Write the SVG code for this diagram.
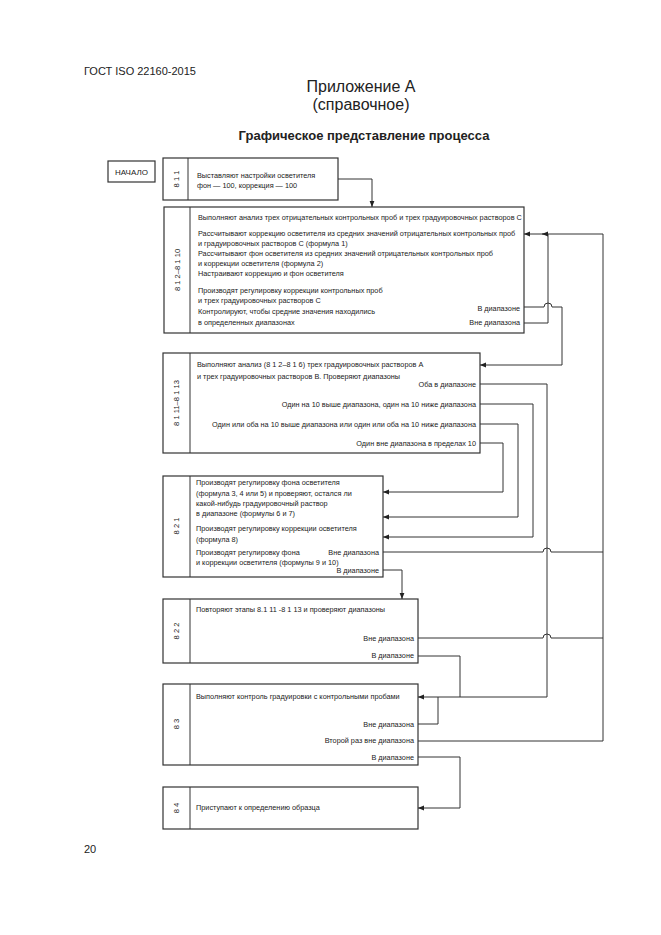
<svg xmlns="http://www.w3.org/2000/svg" width="661" height="935" viewBox="0 0 661 935">
<defs>
<marker id="arr" viewBox="0 0 10 10" refX="10" refY="5" markerWidth="6" markerHeight="6" orient="auto" markerUnits="userSpaceOnUse">
<path d="M0,1 L10,5 L0,9 z" fill="#222"/>
</marker>
</defs>
<style>
text{font-family:"Liberation Sans",Arial,sans-serif;fill:#222}
.t{font-size:7.3px}
.r{font-size:7.3px;text-anchor:end}
.lab{font-size:7.6px;text-anchor:middle;dominant-baseline:central}
.box{fill:#fff;stroke:#333;stroke-width:1.2}
.div{stroke:#333;stroke-width:1}
.c{fill:none;stroke:#333;stroke-width:1}
</style>
<rect width="661" height="935" fill="#fff"/>
<text x="84" y="75" style="font-size:11px">ГОСТ ISO 22160-2015</text>
<text x="361" y="92" style="font-size:16px;text-anchor:middle">Приложение А</text>
<text x="361" y="110" style="font-size:16px;text-anchor:middle">(справочное)</text>
<text x="364" y="140" style="font-size:13px;font-weight:bold;text-anchor:middle">Графическое представление процесса</text>
<text x="84" y="853" style="font-size:11px">20</text>

<g id="start">
<rect class="box" x="108" y="161" width="47" height="21"/>
<text x="131.5" y="174.5" style="font-size:8px;text-anchor:middle">НАЧАЛО</text>
</g>

<g id="n811">
<rect class="box" x="163" y="158" width="175" height="42"/>
<line class="div" x1="188" y1="158" x2="188" y2="200"/>
<text class="lab" transform="translate(176,179) rotate(-90)">8 1 1</text>
<text class="t" x="197" y="177.5">Выставляют настройки осветителя</text>
<text class="t" x="197" y="188">фон — 100, коррекция — 100</text>
</g>

<g id="n812">
<rect class="box" x="164" y="207" width="360" height="126"/>
<line class="div" x1="190" y1="207" x2="190" y2="333"/>
<text class="lab" transform="translate(177,270) rotate(-90)">8 1 2–8 1 10</text>
<text class="t" x="198" y="219.5">Выполняют анализ трех отрицательных контрольных проб и трех градуировочных растворов С</text>
<text class="t" x="198" y="235.5">Рассчитывают коррекцию осветителя из средних значений отрицательных контрольных проб</text>
<text class="t" x="198" y="245.5">и градуировочных растворов С (формула 1)</text>
<text class="t" x="198" y="255.5">Рассчитывают фон осветителя из средних значений отрицательных контрольных проб</text>
<text class="t" x="198" y="265.5">и коррекции осветителя (формула 2)</text>
<text class="t" x="198" y="275.5">Настраивают коррекцию и фон осветителя</text>
<text class="t" x="198" y="292.5">Производят регулировку коррекции контрольных проб</text>
<text class="t" x="198" y="302.5">и трех градуировочных растворов С</text>
<text class="t" x="198" y="313.5">Контролируют, чтобы средние значения находились</text>
<text class="t" x="198" y="325">в определенных диапазонах</text>
<text class="r" x="520" y="310.5">В диапазоне</text>
<text class="r" x="520" y="325">Вне диапазона</text>
</g>

<g id="n8111">
<rect class="box" x="163" y="353" width="317" height="100"/>
<line class="div" x1="190" y1="353" x2="190" y2="453"/>
<text class="lab" transform="translate(176,403) rotate(-90)">8 1 11–8 1 13</text>
<text class="t" x="197" y="366.5">Выполняют анализ (8 1 2–8 1 6) трех градуировочных растворов А</text>
<text class="t" x="197" y="378.5">и трех градуировочных растворов В. Проверяют диапазоны</text>
<text class="r" x="476" y="386.5">Оба в диапазоне</text>
<text class="r" x="476" y="406.5">Один на 10 выше диапазона, один на 10 ниже диапазона</text>
<text class="r" x="476" y="426.5">Один или оба на 10 выше диапазона или один или оба на 10 ниже диапазона</text>
<text class="r" x="476" y="445.5">Один вне диапазона в пределах 10</text>
</g>

<g id="n821">
<rect class="box" x="163" y="476" width="220" height="101"/>
<line class="div" x1="190" y1="476" x2="190" y2="577"/>
<text class="lab" transform="translate(176,526) rotate(-90)">8 2 1</text>
<text class="t" x="196" y="484.5">Производят регулировку фона осветителя</text>
<text class="t" x="196" y="495.5">(формула 3, 4 или 5) и проверяют, остался ли</text>
<text class="t" x="196" y="505.5">какой-нибудь градуировочный раствор</text>
<text class="t" x="196" y="515.5">в диапазоне (формулы 6 и 7)</text>
<text class="t" x="196" y="531">Производят регулировку коррекции осветителя</text>
<text class="t" x="196" y="542">(формула 8)</text>
<text class="t" x="196" y="554.5">Производят регулировку фона</text>
<text class="t" x="196" y="564.5">и коррекции осветителя (формулы 9 и 10)</text>
<text class="r" x="379" y="554.5">Вне диапазона</text>
<text class="r" x="379" y="572.5">В диапазоне</text>
</g>

<g id="n822">
<rect class="box" x="163" y="599" width="255" height="64"/>
<line class="div" x1="190" y1="599" x2="190" y2="663"/>
<text class="lab" transform="translate(176,631) rotate(-90)">8 2 2</text>
<text class="t" x="196" y="612">Повторяют этапы 8.1 11 -8 1 13 и проверяют диапазоны</text>
<text class="r" x="414" y="640.5">Вне диапазона</text>
<text class="r" x="414" y="658">В диапазоне</text>
</g>

<g id="n83">
<rect class="box" x="163" y="684" width="255" height="81"/>
<line class="div" x1="190" y1="684" x2="190" y2="765"/>
<text class="lab" transform="translate(176,724) rotate(-90)">8 3</text>
<text class="t" x="196" y="699">Выполняют контроль градуировки с контрольными пробами</text>
<text class="r" x="414" y="726.5">Вне диапазона</text>
<text class="r" x="414" y="743">Второй раз вне диапазона</text>
<text class="r" x="414" y="759.5">В диапазоне</text>
</g>

<g id="n84">
<rect class="box" x="163" y="787" width="255" height="42"/>
<line class="div" x1="190" y1="787" x2="190" y2="829"/>
<text class="lab" transform="translate(176,808) rotate(-90)">8 4</text>
<text class="t" x="196" y="810">Приступают к определению образца</text>
</g>

<g id="connectors">
<path class="c" d="M338,179 H372 V207" marker-end="url(#arr)"/>
<path class="c" d="M524,323 H548 V234 H524" marker-end="url(#arr)"/>
<path class="c" d="M603,741 V234 H542" marker-end="url(#arr)"/>
<path class="c" d="M524,307 H544 A4,4 0 0 1 552,307 H562 V365 H480" marker-end="url(#arr)"/>
<path class="c" d="M480,384 H547 V697 H418" marker-end="url(#arr)"/>
<path class="c" d="M480,404 H533 V537 H383" marker-end="url(#arr)"/>
<path class="c" d="M480,424 H518 V517 H383" marker-end="url(#arr)"/>
<path class="c" d="M480,443 H503 V492 H383" marker-end="url(#arr)"/>
<path class="c" d="M383,552 H543 A4,4 0 0 1 551,552 H603"/>
<path class="c" d="M383,570 H402 V599" marker-end="url(#arr)"/>
<path class="c" d="M418,638 H543 A4,4 0 0 1 551,638 H603"/>
<path class="c" d="M418,656 H460 V697"/>
<path class="c" d="M418,724 H438 V697"/>
<path class="c" d="M418,741 H603"/>
<path class="c" d="M418,757 H460 V808 H418" marker-end="url(#arr)"/>
</g>
</svg>
